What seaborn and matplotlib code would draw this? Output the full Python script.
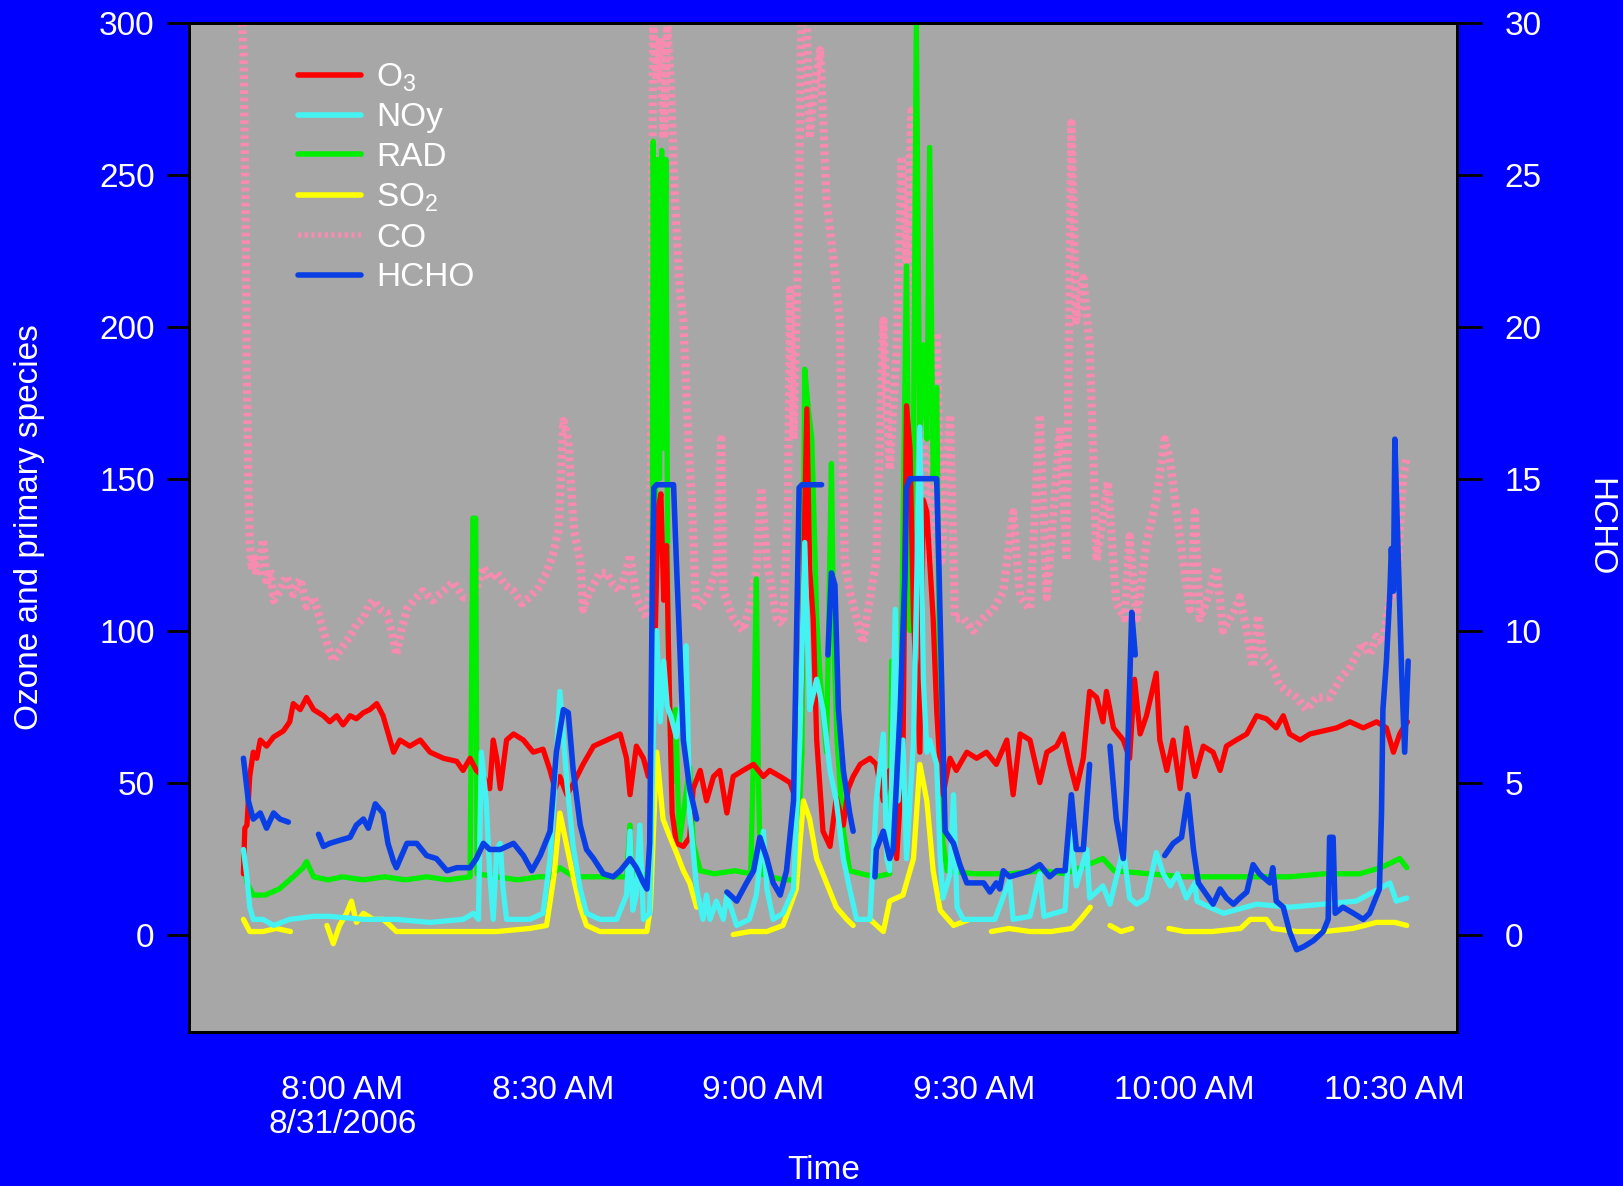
import numpy as np
import pandas as pd
import matplotlib
matplotlib.use("Agg")
import matplotlib.pyplot as plt
from matplotlib.lines import Line2D
import seaborn as sns

# ---- data: minutes after 8:00 AM (8/31/2006); None marks a gap ----
o3_t = [-14.1, -13.9, -13.6, -13.2, -12.7, -12.2, -11.7, -10.8, -9.8, -8.4, -7.5, -7.0, -6.0, -5.1, -4.1, -2.7, -1.8, -0.8, 0.1, 1.1, 2.0, 3.0, 3.9, 4.9, 5.8, 6.8, 7.3, 8.2, 9.6, 11.1, 12.5, 14.4, 16.3, 17.2, 18.2, 19.1, 20.1, 21.0, 21.5, 22.0, 22.5, 23.4, 24.4, 25.8, 27.2, 28.6, 29.6, 30.3, 31.0, 32.0, 33.0, 34.3, 35.8, 37.7, 39.6, 40.5, 41.0, 41.9, 42.9, 43.6, 44.1, 44.6, 45.0, 45.4, 45.8, 46.2, 46.6, 47.0, 47.6, 48.6, 49.5, 50.0, 51.0, 51.9, 52.9, 53.8, 54.8, 55.7, 57.1, 58.6, 60.0, 60.9, 62.4, 63.8, 64.7, 65.4, 66.2, 66.6, 67.1, 67.6, 68.5, 69.5, 70.4, 71.4, 72.1, 72.8, 73.8, 75.2, 76.1, 77.1, 78.0, 79.0, 79.9, 80.4, 80.9, 81.4, 82.3, 82.8, 83.3, 83.7, 84.2, 84.7, 85.2, 85.6, 86.6, 87.5, 89.0, 90.4, 91.8, 93.2, 94.7, 95.6, 96.6, 98.0, 99.4, 100.4, 101.8, 102.7, 103.7, 104.6, 105.6, 106.5, 107.5, 108.4, 108.9, 109.9, 111.3, 112.2, 112.9, 113.7, 114.6, 116.0, 116.5, 117.5, 118.4, 119.4, 120.3, 121.5, 122.7, 124.1, 125.1, 126.0, 127.4, 128.9, 130.3, 131.7, 133.1, 134.1, 135.0, 136.5, 137.9, 139.8, 141.7, 143.6, 145.5, 147.4, 148.8, 149.8, 150.7, 151.2, 151.8]
o3_v = [20, 35, 36, 52, 60, 58, 64, 62, 65, 67, 70, 76, 74, 78, 74, 72, 70, 72, 69, 72, 71, 73, 74, 76, 72, 64, 60, 64, 62, 64, 60, 58, 57, 54, 58, 54, 52, 48, 64, 58, 48, 64, 66, 64, 60, 61, 54, 48, 52, 46, 50, 56, 62, 64, 66, 58, 46, 62, 58, 52, 60, 100, 140, 145, 110, 128, 80, 40, 30, 29, 32, 48, 54, 44, 52, 54, 40, 52, 54, 56, 52, 54, 52, 50, 44, 80, 173, 120, 104, 64, 34, 29, 45, 36, 48, 52, 56, 58, 56, 44, 54, 25, 60, 174, 160, 104, 60, 143, 139, 123, 104, 74, 54, 46, 58, 54, 60, 58, 60, 56, 64, 46, 66, 64, 50, 60, 62, 66, 56, 48, 58, 80, 78, 70, 80, 68, 64, 58, 84, 66, 72, 86, 64, 54, 64, 48, 68, 52, 62, 60, 54, 62, 64, 66, 72, 71, 68, 72, 66, 64, 66, 67, 68, 70, 68, 70, 68, 60, 66, 68, 70]

noy_t = [-14.1, -13.6, -13.2, -12.7, -11.3, -9.8, -7.5, -4.1, -1.8, 3.0, 7.7, 12.5, 17.2, 18.7, 19.4, 19.8, 20.5, 21.0, 21.5, 22.0, 22.5, 22.9, 23.4, 26.7, 28.6, 29.6, 30.3, 31.0, 32.0, 32.9, 33.9, 34.8, 36.7, 39.1, 40.5, 41.0, 41.4, 41.9, 42.4, 42.9, 43.8, 44.3, 44.8, 45.3, 45.8, 46.3, 46.8, 47.6, 48.6, 49.0, 49.5, 50.5, 51.4, 51.9, 52.4, 53.3, 54.3, 54.8, 56.2, 58.0, 59.0, 60.0, 60.5, 61.4, 62.8, 64.3, 65.2, 65.9, 66.6, 67.6, 68.5, 69.5, 70.4, 71.4, 72.3, 73.3, 75.2, 76.1, 77.1, 77.6, 78.0, 78.8, 79.2, 79.9, 80.4, 81.4, 82.3, 82.8, 83.3, 83.7, 84.7, 85.2, 85.6, 86.6, 87.1, 87.6, 88.5, 90.4, 93.0, 95.1, 95.6, 98.0, 99.4, 100.0, 103.0, 103.7, 104.6, 106.1, 106.5, 108.4, 109.4, 111.3, 112.2, 113.2, 114.6, 116.0, 117.0, 118.0, 119.0, 120.3, 121.5, 121.8, 123.6, 125.6, 130.3, 135.0, 139.8, 144.5, 149.3, 150.2, 151.7]
noy_v = [28, 19, 9, 5, 5, 3, 5, 6, 6, 5, 5, 4, 5, 7, 5, 60, 44, 20, 5, 28, 30, 15, 5, 5, 7, 25, 50, 80, 50, 29, 15, 7, 5, 5, 13, 34, 8, 13, 36, 5, 7, 64, 100, 70, 90, 75, 72, 65, 80, 95, 40, 15, 5, 13, 5, 11, 5, 13, 3, 5, 13, 34, 15, 5, 7, 15, 64, 129, 74, 84, 74, 54, 44, 25, 15, 5, 5, 44, 66, 25, 21, 107, 44, 64, 25, 64, 167, 84, 60, 64, 56, 25, 12, 20, 46, 9, 5, 5, 5, 18, 5, 6, 20, 6, 8, 34, 16, 28, 12, 16, 10, 28, 12, 10, 12, 27, 20, 16, 20, 12, 17, 11, 9, 7, 10, 9, 10, 11, 17, 11, 12]

rad_t = [-14.1, -13.6, -12.7, -11.0, -9.0, -7.0, -5.6, -5.1, -4.1, -2.0, 0.0, 3.0, 6.0, 9.0, 12.0, 15.0, 18.2, 18.6, 19.0, 19.2, 22.0, 25.0, 28.0, 29.6, 31.0, 33.0, 36.0, 40.5, 41.0, 41.3, 43.8, 44.1, 44.3, 44.6, 44.9, 45.2, 45.5, 45.8, 46.1, 46.4, 46.7, 47.0, 47.5, 48.0, 49.5, 50.0, 51.0, 53.0, 56.0, 58.2, 58.6, 59.0, 59.3, 59.6, 61.0, 63.0, 64.7, 65.5, 65.9, 66.4, 66.9, 67.6, 68.1, 69.0, 69.7, 70.0, 70.5, 71.4, 72.3, 74.0, 76.0, 78.0, 78.3, 78.6, 79.5, 80.4, 80.9, 81.4, 81.8, 82.3, 82.8, 83.3, 83.7, 84.2, 84.7, 85.2, 85.6, 86.2, 90.0, 95.0, 100.0, 103.0, 108.4, 110.0, 115.0, 120.0, 125.0, 130.0, 135.0, 140.0, 145.0, 148.0, 150.7, 151.7]
rad_v = [26, 17, 13, 13, 15, 19, 22, 24, 19, 18, 19, 18, 19, 18, 19, 18, 19, 137, 137, 20, 19, 18, 19, 19, 22, 19, 19, 19, 36, 19, 20, 40, 261, 120, 255, 150, 258, 160, 255, 100, 70, 50, 74, 30, 55, 30, 21, 20, 21, 20, 60, 117, 50, 20, 19, 18, 18, 60, 186, 173, 163, 104, 84, 60, 155, 100, 64, 34, 21, 20, 19, 20, 90, 30, 60, 220, 100, 160, 300, 163, 194, 163, 259, 150, 180, 64, 30, 21, 20, 20, 21, 20, 25, 21, 20, 19, 19, 19, 19, 20, 20, 22, 25, 22]

so2_t = [-14.1, -13.2, -11.3, -9.4, -7.4, -7.2, -2.2, -1.3, -0.4, 0.6, 1.3, 2.0, 3.0, 4.4, 5.8, 6.8, 7.7, 9.6, 12.5, 17.2, 22.0, 26.7, 29.1, 30.2, 31.0, 32.0, 32.9, 33.9, 34.8, 36.7, 40.0, 43.4, 43.9, 44.8, 45.7, 46.7, 47.6, 48.6, 49.5, 50.5, 50.7, 55.7, 58.1, 60.5, 62.8, 64.7, 65.7, 66.6, 67.6, 69.0, 70.4, 71.9, 72.8, 73.5, 75.2, 77.1, 78.0, 79.9, 81.4, 82.3, 83.3, 84.2, 85.2, 87.1, 89.4, 90.0, 92.5, 95.0, 98.0, 101.0, 104.0, 105.2, 106.6, 107.0, 109.4, 111.0, 112.5, 113.2, 117.8, 120.0, 124.0, 128.0, 129.4, 131.7, 132.6, 136.0, 140.0, 144.0, 147.4, 150.0, 151.7]
so2_v = [5, 1, 1, 2, 1, None, 3, -3, 3, 7, 11, 4, 7, 5, 5, 3, 1, 1, 1, 1, 1, 2, 3, 20, 40, 29, 19, 9, 3, 1, 1, 1, 9, 60, 38, 32, 27, 21, 17, 9, None, 0, 1, 1, 3, 15, 44, 38, 25, 17, 9, 5, 3, None, 5, 1, 11, 13, 25, 56, 44, 21, 8, 3, 5, None, 1, 2, 1, 1, 2, 5, 9, None, 3, 1, 2, None, 2, 1, 1, 2, 5, 5, 2, 1, 1, 2, 4, 4, 3]

co_t = [-14.3, -14.1, -13.8, -13.6, -13.4, -13.2, -12.9, -12.7, -12.2, -11.7, -11.3, -10.8, -10.3, -9.8, -8.9, -8.0, -7.0, -6.0, -5.1, -4.1, -3.2, -2.2, -1.3, -0.8, 0.1, 1.1, 2.0, 3.0, 3.7, 4.4, 5.4, 6.3, 7.0, 7.7, 8.4, 9.2, 10.2, 11.5, 12.9, 14.4, 15.8, 17.2, 18.7, 19.4, 20.1, 21.0, 22.0, 23.2, 24.4, 25.6, 26.7, 27.9, 29.1, 30.0, 30.8, 31.5, 32.2, 33.0, 33.9, 34.3, 35.1, 35.8, 36.7, 37.7, 38.6, 39.6, 40.5, 41.0, 41.9, 43.4, 43.9, 44.3, 44.8, 45.3, 45.8, 46.3, 46.8, 47.4, 48.1, 48.6, 49.3, 49.8, 50.4, 51.9, 53.3, 54.0, 54.3, 55.7, 57.1, 58.1, 59.0, 59.7, 60.5, 61.9, 62.8, 63.5, 63.8, 64.3, 65.0, 65.4, 66.2, 66.6, 67.1, 68.1, 69.0, 70.0, 70.9, 71.6, 72.3, 73.3, 74.2, 75.2, 76.1, 77.1, 78.0, 79.0, 79.7, 80.4, 81.1, 81.8, 82.8, 83.7, 84.7, 85.4, 86.6, 87.3, 88.5, 89.9, 91.3, 92.8, 94.2, 95.6, 96.6, 98.0, 99.4, 100.4, 102.3, 103.2, 103.9, 104.6, 105.6, 106.5, 107.5, 109.1, 110.3, 111.5, 112.2, 113.2, 114.6, 116.0, 117.2, 117.9, 118.9, 119.8, 120.8, 121.5, 122.2, 123.2, 124.6, 125.5, 127.0, 127.9, 128.9, 129.8, 130.5, 131.2, 132.6, 133.6, 134.6, 136.0, 137.4, 138.8, 140.7, 142.2, 143.6, 144.5, 145.5, 146.4, 147.4, 148.3, 149.3, 150.2, 151.2, 151.7]
co_v = [300, 290, 240, 182, 150, 129, 120, 125, 118, 125, 130, 115, 120, 110, 113, 118, 112, 117, 108, 111, 104, 96, 90, 92, 95, 98, 102, 104, 108, 110, 107, 106, 100, 92, 100, 107, 110, 113, 110, 113, 116, 111, 111, 116, 121, 117, 119, 115, 113, 109, 111, 114, 119, 125, 133, 169, 163, 133, 123, 107, 112, 115, 119, 119, 115, 113, 120, 125, 111, 104, 115, 300, 281, 295, 262, 299, 281, 242, 212, 202, 163, 143, 107, 111, 120, 163, 113, 104, 100, 108, 120, 147, 123, 104, 102, 140, 212, 163, 230, 300, 300, 262, 275, 291, 242, 222, 202, 123, 113, 104, 96, 111, 123, 202, 153, 192, 256, 222, 271, 182, 163, 123, 198, 123, 171, 104, 104, 100, 104, 107, 113, 139, 111, 107, 171, 111, 167, 123, 267, 202, 216, 194, 123, 149, 109, 104, 131, 104, 129, 143, 163, 157, 139, 123, 107, 139, 104, 110, 121, 100, 106, 111, 100, 88, 105, 92, 88, 82, 80, 78, 74, 78, 78, 84, 88, 92, 96, 92, 98, 96, 111, 113, 151, 157]

hcho_t = [-14.1, -13.4, -12.7, -11.7, -10.8, -9.8, -8.9, -7.7, -5.5, -3.4, -2.7, -1.8, -0.4, 1.1, 2.0, 3.0, 3.7, 4.7, 5.8, 6.5, 7.3, 7.7, 9.2, 10.6, 12.0, 13.4, 14.9, 16.3, 18.2, 19.1, 20.1, 21.0, 22.5, 24.4, 25.8, 27.0, 28.2, 29.6, 30.5, 31.5, 32.2, 32.9, 33.9, 34.8, 35.8, 37.2, 38.6, 39.6, 41.0, 41.9, 42.9, 43.4, 43.8, 44.2, 44.4, 44.8, 46.0, 47.2, 47.6, 48.1, 48.6, 49.5, 50.5, 52.0, 54.8, 56.2, 57.6, 58.6, 59.5, 60.5, 61.4, 62.4, 63.3, 64.3, 64.9, 65.1, 65.5, 67.0, 68.3, 68.8, 69.2, 69.7, 70.2, 70.7, 71.4, 72.3, 72.8, 74.0, 75.9, 76.1, 77.1, 78.0, 78.5, 79.5, 80.2, 80.4, 80.9, 84.7, 85.0, 85.4, 85.9, 87.1, 88.0, 89.0, 90.0, 91.4, 92.3, 93.2, 93.7, 94.2, 95.1, 96.6, 98.0, 99.4, 100.8, 101.8, 103.0, 103.9, 104.6, 105.6, 106.5, 108.0, 109.4, 110.3, 111.3, 111.8, 112.5, 113.0, 115.0, 117.2, 118.4, 119.6, 120.5, 121.3, 122.0, 123.2, 124.1, 125.1, 126.0, 127.0, 127.9, 128.9, 129.8, 130.7, 132.2, 132.6, 133.1, 134.1, 135.0, 136.0, 137.0, 138.4, 139.8, 140.5, 140.7, 141.2, 141.5, 142.6, 144.1, 145.5, 146.4, 147.8, 148.1, 148.3, 148.8, 149.3, 149.5, 149.8, 150.0, 150.5, 151.0, 151.4, 151.9]
hcho_v = [5.8, 4.4, 3.8, 4.0, 3.5, 4.0, 3.8, 3.7, None, 3.3, 2.9, 3.0, 3.1, 3.2, 3.6, 3.8, 3.5, 4.3, 4.0, 3.0, 2.4, 2.2, 3.0, 3.0, 2.6, 2.5, 2.1, 2.2, 2.2, 2.5, 3.0, 2.8, 2.8, 3.0, 2.6, 2.1, 2.6, 3.4, 6.0, 7.4, 7.3, 5.4, 3.6, 2.8, 2.5, 2.0, 1.9, 2.1, 2.5, 2.2, 1.7, 1.5, 3.0, 12.0, 14.7, 14.8, 14.8, 14.8, 12.3, 9.4, 6.4, 4.8, 3.8, None, 1.4, 1.1, 1.7, 2.1, 3.2, 2.5, 1.7, 1.3, 2.1, 4.4, 12.0, 14.7, 14.8, 14.8, 14.8, None, 9.2, 11.9, 11.5, 7.4, 5.4, 4.0, 3.4, None, 1.9, 2.8, 3.4, 2.5, 2.8, 7.4, 12.0, 14.7, 15.0, 15.0, 12.3, 8.4, 3.4, 3.0, 2.3, 1.7, 1.7, 1.7, 1.4, 1.7, 1.5, 2.1, 1.9, 2.0, 2.1, 2.3, 1.9, 2.1, 2.1, 4.6, 2.8, 2.8, 5.6, None, 6.2, 3.8, 2.5, 5.0, 10.6, 9.2, None, 2.6, 3.0, 3.2, 4.6, 2.8, 1.7, 1.3, 1.0, 1.5, 1.2, 1.0, 1.2, 1.4, 2.3, 2.0, 1.7, 2.2, 1.1, 0.9, 0.1, -0.5, -0.4, -0.2, 0.1, 0.5, 3.2, 3.2, 0.7, 0.9, 0.7, 0.5, 0.7, 1.5, 4.0, 7.4, 9.0, 11.3, 12.7, 11.3, 16.3, 12.3, 8.4, 6.0, 9.0]

x_ticks = [0, 30, 60, 90, 120, 150]
x_tick_labels = ["8:00 AM\n8/31/2006", "8:30 AM", "9:00 AM", "9:30 AM", "10:00 AM", "10:30 AM"]
left_ticks = [0, 50, 100, 150, 200, 250, 300]
right_ticks = [0, 5, 10, 15, 20, 25, 30]

labels = ["O$_3$", "NOy", "RAD", "SO$_2$", "CO", "HCHO"]
colors = {"O3": "#ff0000", "NOy": "#45f2f2", "RAD": "#00ee00", "SO2": "#ffff00",
          "CO": "#f78bb0", "HCHO": "#0a3fe6"}


def frame(t, v):
    df = pd.DataFrame({"t": t, "v": pd.to_numeric(pd.Series(v), errors="coerce")})
    df["seg"] = df["v"].isna().cumsum()
    return df.dropna()


sns.set_theme(style="white")
plt.rcParams["font.family"] = ["Liberation Sans", "DejaVu Sans"]
plt.rcParams["mathtext.default"] = "regular"

BG = "#0000ff"
fig = plt.figure(figsize=(16.23, 11.86), dpi=100, facecolor=BG)
ax = fig.add_axes([0.1167, 0.1300, 0.7812, 0.8508])
ax.set_facecolor("#a7a7a7")

def draw(axis, t, v, color, lw, z, **kw):
    df = frame(t, v)
    sns.lineplot(data=df, x="t", y="v", units="seg", estimator=None, color=color,
                 lw=lw, ax=axis, legend=False, zorder=z, **kw)

draw(ax, co_t, co_v, colors["CO"], 6.0, 1, linestyle=(0, (0.45, 0.45)))
draw(ax, rad_t, rad_v, colors["RAD"], 3.8, 2)
draw(ax, o3_t, o3_v, colors["O3"], 3.8, 3)
draw(ax, so2_t, so2_v, colors["SO2"], 3.8, 4)
draw(ax, noy_t, noy_v, colors["NOy"], 3.8, 5)

ax.set_xlim(-21.8, 158.9)
ax.set_ylim(-32, 300)

ax2 = ax.twinx()
draw(ax2, hcho_t, hcho_v, colors["HCHO"], 4.0, 6)
ax2.set_ylim(-3.2, 30)

FS = 24
for a in (ax, ax2):
    for s in a.spines.values():
        s.set_color("black")
        s.set_linewidth(2)
ax.set_xticks(x_ticks)
ax.set_xticklabels(x_tick_labels, linespacing=1.15)
ax.set_yticks(left_ticks)
ax2.set_yticks(right_ticks)
ax.tick_params(axis="both", colors="black", labelcolor="white", labelsize=FS,
               length=16, width=2, direction="out", pad=9)
ax.tick_params(axis="x", pad=15)
ax2.tick_params(axis="y", colors="black", labelcolor="white", labelsize=FS,
                length=18, width=2, direction="out", pad=16)

ax.set_xlabel("Time", color="white", fontsize=FS)
ax.xaxis.set_label_coords(0.5, -0.137)
ax.xaxis.label.set_va("center")
ax.set_ylabel("Ozone and primary species", color="white", fontsize=FS)
ax.yaxis.set_label_coords(-0.1265, 0.5)
ax.yaxis.label.set_va("center")
ax2.set_ylabel("HCHO", color="white", fontsize=FS, rotation=270)
ax2.yaxis.set_label_coords(1.112, 0.5)
ax2.yaxis.label.set_va("center")

handles = [
    Line2D([], [], color=colors["O3"], lw=4),
    Line2D([], [], color=colors["NOy"], lw=4),
    Line2D([], [], color=colors["RAD"], lw=4),
    Line2D([], [], color=colors["SO2"], lw=4),
    Line2D([], [], color=colors["CO"], lw=4, linestyle=(0, (0.6, 0.6))),
    Line2D([], [], color=colors["HCHO"], lw=4),
]
leg = ax2.legend(handles, labels, loc="upper left", bbox_to_anchor=(0.075, 0.975),
                 frameon=False, fontsize=FS, labelcolor="white", handlelength=1.9,
                 handletextpad=0.45, labelspacing=0.26, borderaxespad=0)

fig.savefig("out.png", dpi=100, facecolor=BG)
